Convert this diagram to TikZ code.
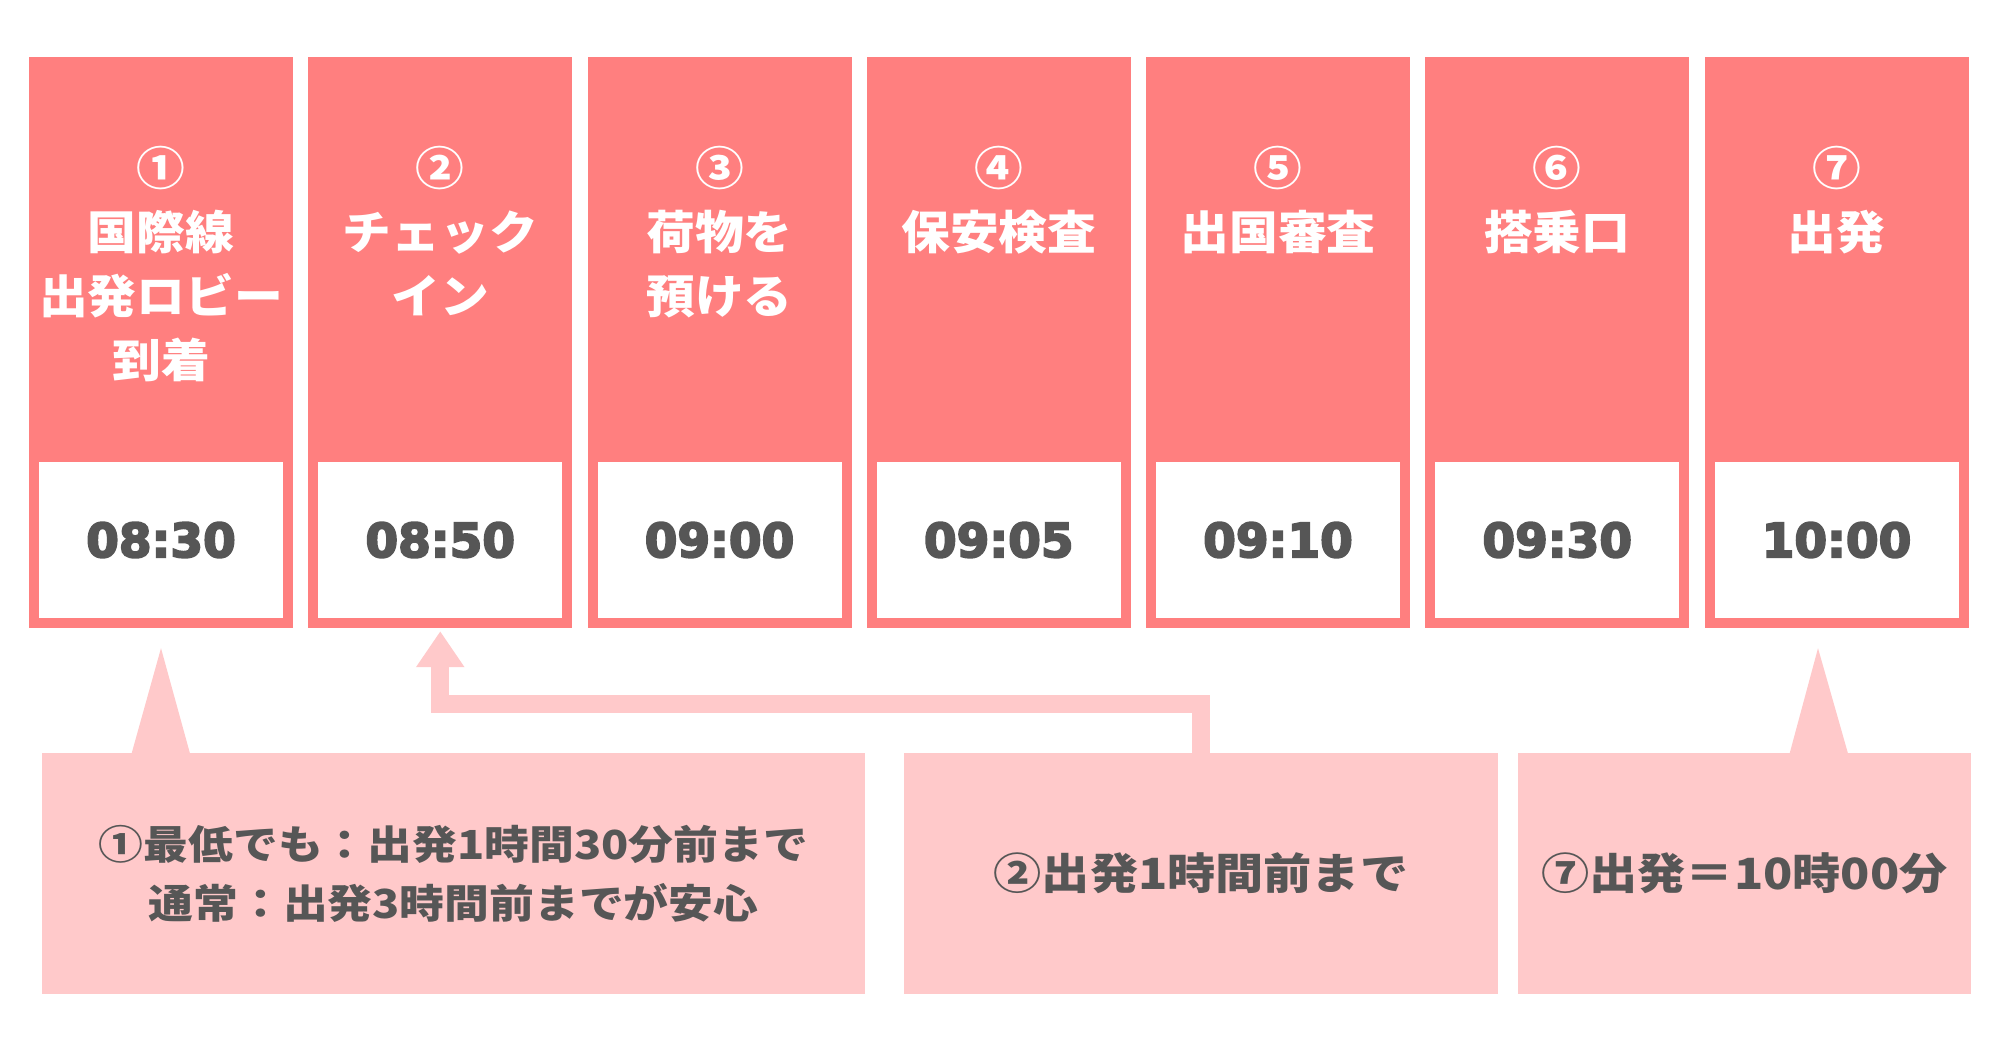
\documentclass[tikz,border=0pt]{standalone}
\usepackage{fontspec}
\usetikzlibrary{arrows.meta,calc}
\newfontfamily\jp{Noto Sans CJK JP}[FakeStretch=1.06]
\newfontfamily\jpw{Noto Sans CJK JP}[FakeStretch=1.12]
\newfontfamily\numf{DejaVu Sans}[BoldFeatures={FakeBold=4}]
\definecolor{salmon}{HTML}{FF7F7F}
\definecolor{pinkl}{HTML}{FFC9CA}
\definecolor{grayt}{HTML}{565656}
\tikzset{
  colbox/.style={rectangle, fill=salmon, minimum width=264pt, minimum height=571pt, inner sep=0pt},
  timebox/.style={rectangle, fill=white, minimum width=244pt, minimum height=156pt, inner sep=0pt,
    text=grayt, font=\numf\bfseries\fontsize{47}{56}\selectfont},
  steplabel/.style={anchor=base, inner sep=0pt, align=center, text=white,
    font=\jp\bfseries\fontsize{46}{64}\selectfont},
  callbox/.style={rectangle, fill=pinkl, minimum height=241pt, inner sep=0pt, align=center,
    text=grayt},
  pointer/.style={fill=pinkl},
  arrowline/.style={draw=pinkl, line width=18pt, -{Triangle[width=46pt,length=36pt]}, shorten >=3pt}
}
\begin{document}
\begin{tikzpicture}[x=1pt, y=-1pt]
\useasboundingbox[fill=white] (0,0) rectangle (2000,1048);
% columns
\node[colbox] (col1) at (161,342.5) {};
\node[colbox] (col2) at (440.25,342.5) {};
\node[colbox] (col3) at (719.5,342.5) {};
\node[colbox] (col4) at (998.75,342.5) {};
\node[colbox] (col5) at (1278,342.5) {};
\node[colbox] (col6) at (1557.25,342.5) {};
\node[colbox] (col7) at (1836.5,342.5) {};
% labels (anchor base = baseline of the last line)
\node[steplabel] (l1) at (161,377.5) {①\\国際線\\出発ロビー\\到着};
\node[steplabel] (l2) at (440.25,313.5) {②\\チェック\\イン};
\node[steplabel] (l3) at (719.5,313.5) {③\\荷物を\\預ける};
\node[steplabel] (l4) at (998.75,249.5) {④\\保安検査};
\node[steplabel] (l5) at (1278,249.5) {⑤\\出国審査};
\node[steplabel] (l6) at (1557.25,249.5) {⑥\\搭乗口};
\node[steplabel] (l7) at (1836.5,249.5) {⑦\\出発};
% times
\node[timebox] (t1) at (161,540) {08:30};
\node[timebox] (t2) at (440.25,540) {08:50};
\node[timebox] (t3) at (719.5,540) {09:00};
\node[timebox] (t4) at (998.75,540) {09:05};
\node[timebox] (t5) at (1278,540) {09:10};
\node[timebox] (t6) at (1557.25,540) {09:30};
\node[timebox] (t7) at (1836.5,540) {10:00};
% callouts
\node[callbox, minimum width=823pt, font=\jpw\bfseries\fontsize{40}{59}\selectfont] (c1) at (453.5,873.5)
  {①最低でも：出発1時間30分前まで\\通常：出発3時間前までが安心};
\node[callbox, minimum width=594pt, font=\jpw\bfseries\fontsize{43}{59}\selectfont] (c2) at (1201,873.5)
  {②出発1時間前まで};
\node[callbox, minimum width=453pt, font=\jpw\bfseries\fontsize{43}{59}\selectfont] (c3) at (1744.5,873.5)
  {⑦出発＝10時00分};
% pointers
\fill[pointer] ($(c1.north west)+(90,0)$) -- ($(col1.south)+(0,20)$) -- ($(c1.north west)+(148,0)$) -- cycle;
\fill[pointer] ($(c3.north west)+(272,0)$) -- ($(col7.south)+(-18.5,20)$) -- ($(c3.north west)+(330,0)$) -- cycle;
% arrow
\draw[arrowline] (c2.north) -- ++(0,-49) -| (col2.south);
\end{tikzpicture}
\end{document}
